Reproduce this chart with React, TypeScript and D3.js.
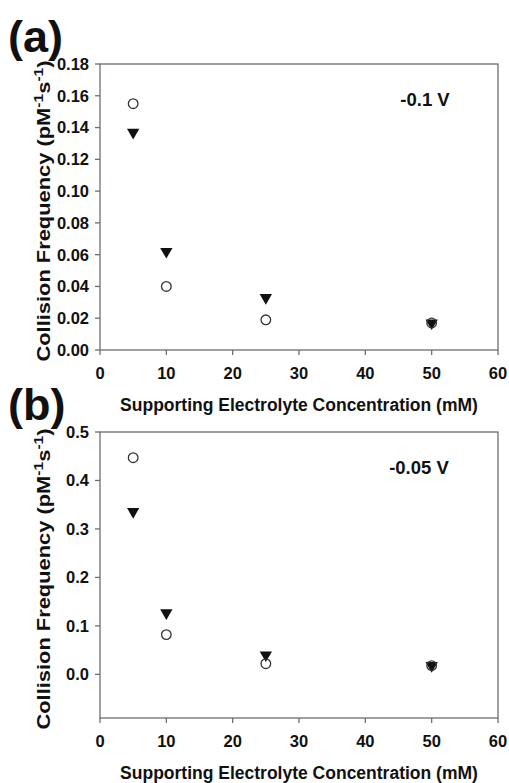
import React from "react";
import * as d3 from "d3";

// Supporting electrolyte concentration (mM)
const concentrations = [5, 10, 25, 50];

// Panel (a): -0.1 V
const panelA_circles = [0.155, 0.040, 0.019, 0.017];
const panelA_triangles = [0.137, 0.062, 0.033, 0.017];

// Panel (b): -0.05 V
const panelB_circles = [0.447, 0.082, 0.022, 0.018];
const panelB_triangles = [0.336, 0.127, 0.040, 0.018];

const xTicks = [0, 10, 20, 30, 40, 50, 60];
const yTicksA = [0, 0.02, 0.04, 0.06, 0.08, 0.1, 0.12, 0.14, 0.16, 0.18];
const yTicksB = [0, 0.1, 0.2, 0.3, 0.4, 0.5];

const FONT = "Liberation Sans, Arial, Helvetica, sans-serif";
const AXIS = "#6e6e6e";
const INK = "#111";

type PanelProps = {
  top: number;
  bottom: number;
  yDomain: [number, number];
  yTicks: number[];
  yFormat: (v: number) => string;
  circles: number[];
  triangles: number[];
  letter: string;
  letterY: number;
  voltage: string;
  voltageX: number;
  voltageY: number;
};

const left = 100;
const right = 498;

function Panel(p: PanelProps) {
  const x = d3.scaleLinear().domain([0, 60]).range([left, right]);
  const y = d3.scaleLinear().domain(p.yDomain).range([p.bottom, p.top]);
  const tri = d3.symbol().type(d3.symbolTriangle).size(66)();
  const midY = (p.top + p.bottom) / 2 + 4;
  return (
    <g>
      <text x={8} y={p.letterY} fontFamily={FONT} fontWeight="bold" fontSize={45} fill={INK}>
        {p.letter}
      </text>
      <rect x={left} y={p.top} width={right - left} height={p.bottom - p.top} fill="none" stroke={AXIS} strokeWidth={1.3} />
      {p.yTicks.map((t) => (
        <g key={"y" + t}>
          <line x1={left - 5} x2={left} y1={y(t)} y2={y(t)} stroke={AXIS} strokeWidth={1.3} />
          <text x={left - 11} y={y(t)} dy="0.36em" textAnchor="end" fontFamily={FONT} fontWeight="bold" fontSize={16.5} fill={INK}>
            {p.yFormat(t)}
          </text>
        </g>
      ))}
      {xTicks.map((t) => (
        <g key={"x" + t}>
          <line x1={x(t)} x2={x(t)} y1={p.bottom} y2={p.bottom + 5} stroke={AXIS} strokeWidth={1.3} />
          <text x={x(t)} y={p.bottom + 23} dy="0.36em" textAnchor="middle" fontFamily={FONT} fontWeight="bold" fontSize={16.5} fill={INK}>
            {t}
          </text>
        </g>
      ))}
      <text x={299} y={p.bottom + 61} textAnchor="middle" fontFamily={FONT} fontWeight="bold" fontSize={17.5} fill={INK}>
        Supporting Electrolyte Concentration (mM)
      </text>
      <text
        transform={`translate(50,${midY}) rotate(-90) scale(1.25,1)`}
        textAnchor="middle"
        fontFamily={FONT}
        fontWeight="bold"
        fontSize={17.5}
        fill={INK}
      >
        Collision Frequency (pM
        <tspan dy={-7} fontSize={12.5}>-1</tspan>
        <tspan dy={7}>s</tspan>
        <tspan dy={-7} fontSize={12.5}>-1</tspan>
        <tspan dy={7}>)</tspan>
      </text>
      <text x={p.voltageX} y={p.voltageY} textAnchor="middle" fontFamily={FONT} fontWeight="bold" fontSize={18.5} fill={INK}>
        {p.voltage}
      </text>
      {concentrations.map((c, i) => (
        <path
          key={"t" + c}
          d={tri}
          transform={`translate(${x(c)},${y(p.triangles[i])}) rotate(180)`}
          fill="#111"
        />
      ))}
      {concentrations.map((c, i) => (
        <circle key={"c" + c} cx={x(c)} cy={y(p.circles[i])} r={4.8} fill="none" stroke="#333" strokeWidth={1.3} />
      ))}
    </g>
  );
}

export default function App() {
  const fmt2 = d3.format(".2f");
  const fmt1 = d3.format(".1f");
  return (
    <svg width={509} height={783} style={{ position: "absolute", left: 0, top: 0, background: "#fff" }}>
      <rect width={509} height={783} fill="#fff" />
      <Panel
        top={64}
        bottom={350}
        yDomain={[0, 0.18]}
        yTicks={yTicksA}
        yFormat={fmt2}
        circles={panelA_circles}
        triangles={panelA_triangles}
        letter="(a)"
        letterY={52}
        voltage="-0.1 V"
        voltageX={425}
        voltageY={106}
      />
      <Panel
        top={432}
        bottom={718}
        yDomain={[-0.09, 0.5]}
        yTicks={yTicksB}
        yFormat={fmt1}
        circles={panelB_circles}
        triangles={panelB_triangles}
        letter="(b)"
        letterY={420}
        voltage="-0.05 V"
        voltageX={419}
        voltageY={474}
      />
    </svg>
  );
}
